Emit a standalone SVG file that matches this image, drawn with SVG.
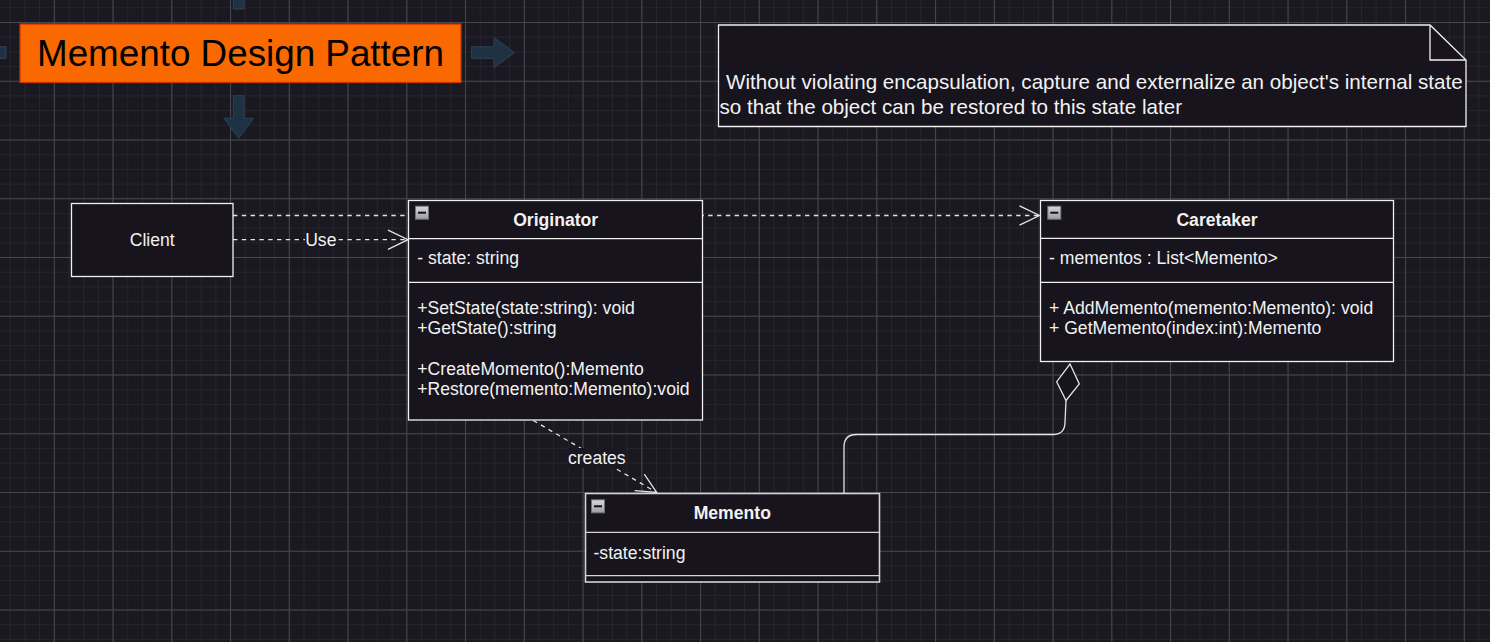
<svg xmlns="http://www.w3.org/2000/svg" width="1490" height="642" viewBox="0 0 1490 642">
<style>
  .txt { font-family: "Liberation Sans", Arial, sans-serif; font-size: 17.6px; fill: #f2f2f2; }
  .bold { font-weight: bold; }
  .box { fill: #17141d; stroke: #f0f0f0; stroke-width: 1.3; }
  .div { stroke: #f0f0f0; stroke-width: 1.3; }
  .edge { fill: none; stroke: #e4e4e4; stroke-width: 1.3; }
  .dash { stroke-dasharray: 4.4 4.4; }
  .hover { fill: #1f3244; stroke: #2c4257; stroke-width: 1; }
  .lblbg { fill: #1a1820; }
</style>
<defs>
  <pattern id="minor" x="53.8" y="22" width="14.6875" height="14.6875" patternUnits="userSpaceOnUse">
    <path d="M0.5 0 V14.6875 M0 0.5 H14.6875" stroke="#26242c" stroke-width="1" fill="none"/>
  </pattern>
  <pattern id="major" x="53.8" y="22" width="58.75" height="58.75" patternUnits="userSpaceOnUse">
    <path d="M0.5 0 V58.75 M0 0.5 H58.75" stroke="#48464d" stroke-width="1" fill="none"/>
  </pattern>
  <linearGradient id="iconGrad" x1="0" y1="0" x2="0" y2="1">
    <stop offset="0" stop-color="#d8d8dc"/>
    <stop offset="1" stop-color="#9c9ca4"/>
  </linearGradient>
  <g id="collapse">
    <rect x="0.5" y="0.5" width="13" height="13" fill="url(#iconGrad)" stroke="#73737b" stroke-width="1"/>
    <line x1="3" y1="7" x2="11" y2="7" stroke="#111111" stroke-width="2"/>
  </g>
  <marker id="open" markerUnits="userSpaceOnUse" viewBox="-24 -12 26 24" markerWidth="26" markerHeight="24" refX="0" refY="0" orient="auto">
    <path d="M-20,-9.6 L0,0 L-20,9.6" fill="none" stroke="#e4e4e4" stroke-width="1.3"/>
  </marker>
</defs>

<!-- background and grid -->
<rect x="0" y="0" width="1490" height="642" fill="#1a1820"/>
<rect x="0" y="0" width="1490" height="642" fill="url(#minor)"/>
<rect x="0" y="0" width="1490" height="642" fill="url(#major)"/>

<!-- hover arrows around the title -->
<g id="hover-arrows">
  <rect class="hover" x="233.3" y="-4" width="10.7" height="13"/>
  <rect class="hover" x="-4" y="46.7" width="10" height="11.6"/>
  <polygon class="hover" points="471.6,46.7 494,46.7 494,37.7 514.5,52.5 494,67.7 494,58.3 471.6,58.3"/>
  <polygon class="hover" points="233.3,95.7 244,95.7 244,118.3 253.5,118.3 238.7,138.3 224,118.3 233.3,118.3"/>
</g>

<!-- title -->
<g id="title">
  <rect x="20" y="24" width="441" height="58.5" fill="#fa6800" stroke="#c73500" stroke-width="1.3"/>
  <text x="240.5" y="65.8" text-anchor="middle" style="font-family: 'Liberation Sans', Arial, sans-serif; font-size: 36.8px; fill: #000000;">Memento Design Pattern</text>
</g>

<!-- note -->
<g id="note">
  <path d="M718.5 25 H1430 L1466 60 V126.5 H718.5 Z" fill="#17141d" stroke="#f0f0f0" stroke-width="1.3"/>
  <path d="M1430 25 V60 H1466" fill="none" stroke="#f0f0f0" stroke-width="1.3"/>
  <text class="txt" x="726" y="88.5" style="font-size: 20.6px;">Without violating encapsulation, capture and externalize an object's internal state</text>
  <text class="txt" x="719.5" y="113.5" style="font-size: 20.6px;">so that the object can be restored to this state later</text>
</g>

<!-- connectors -->
<g id="connectors">
  <path class="edge dash" d="M233 215.5 H1039.5" marker-end="url(#open)"/>
  <path class="edge dash" d="M233 239.7 H408" marker-end="url(#open)"/>
  <path class="edge dash" d="M533.3 420.5 L656.7 492.5" marker-end="url(#open)"/>
  <path class="edge" d="M844 493.5 V447 Q844 434.5 856.5 434.5 H1053 Q1065 434.5 1065 422 L1066 400.5"/>
  <polygon points="1070,364 1079.3,384 1066,400.5 1056.7,381.7" fill="#17141d" stroke="#e4e4e4" stroke-width="1.3"/>
  <rect class="lblbg" x="305" y="230" width="32" height="19"/>
  <text class="txt" x="320.8" y="245.5" text-anchor="middle">Use</text>
  <rect class="lblbg" x="568" y="448" width="58" height="20"/>
  <text class="txt" x="596.8" y="463.8" text-anchor="middle">creates</text>
</g>

<!-- Client -->
<g id="client">
  <rect class="box" x="71.5" y="203.5" width="161.5" height="73"/>
  <text class="txt" x="152.2" y="245.8" text-anchor="middle">Client</text>
</g>

<!-- Originator -->
<g id="originator">
  <rect class="box" x="408.5" y="200.5" width="294" height="219.5"/>
  <line class="div" x1="408.5" y1="238.7" x2="702.5" y2="238.7"/>
  <line class="div" x1="408.5" y1="282.3" x2="702.5" y2="282.3"/>
  <use href="#collapse" x="415" y="205.7"/>
  <text class="txt bold" x="555.7" y="225.8" text-anchor="middle">Originator</text>
  <text class="txt" x="417.3" y="263.5">- state: string</text>
  <text class="txt" x="417.3" y="313.8">+SetState(state:string): void</text>
  <text class="txt" x="417.3" y="334.2">+GetState():string</text>
  <text class="txt" x="417.3" y="375">+CreateMomento():Memento</text>
  <text class="txt" x="417.3" y="395.4">+Restore(memento:Memento):void</text>
</g>

<!-- Caretaker -->
<g id="caretaker">
  <rect class="box" x="1040.5" y="200.5" width="353" height="161"/>
  <line class="div" x1="1040.5" y1="238.3" x2="1393.5" y2="238.3"/>
  <line class="div" x1="1040.5" y1="282.3" x2="1393.5" y2="282.3"/>
  <use href="#collapse" x="1047.3" y="205.7"/>
  <text class="txt bold" x="1217" y="225.8" text-anchor="middle">Caretaker</text>
  <text class="txt" x="1049" y="263.5">- mementos : List&lt;Memento&gt;</text>
  <text class="txt" x="1049" y="313.8">+ AddMemento(memento:Memento): void</text>
  <text class="txt" x="1049" y="334.2">+ GetMemento(index:int):Memento</text>
</g>

<!-- Memento -->
<g id="memento">
  <rect class="box" x="585.5" y="493.5" width="294" height="88.5" style="stroke: #d4d4d4; stroke-width: 1.6;"/>
  <line class="div" x1="585.5" y1="532.3" x2="879.5" y2="532.3" style="stroke: #d4d4d4;"/>
  <line class="div" x1="585.5" y1="575.7" x2="879.5" y2="575.7" style="stroke: #d4d4d4;"/>
  <use href="#collapse" x="591" y="499.3"/>
  <text class="txt bold" x="732.3" y="519.3" text-anchor="middle">Memento</text>
  <text class="txt" x="593.5" y="558.5">-state:string</text>
</g>
</svg>
